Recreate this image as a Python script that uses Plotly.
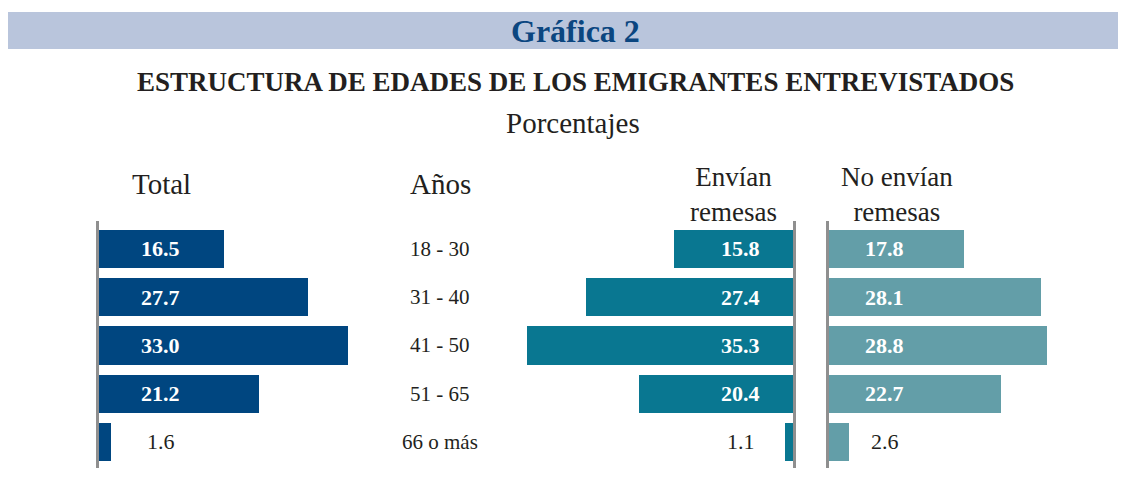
import plotly.graph_objects as go
from plotly.subplots import make_subplots

# data
ages = ["18 - 30", "31 - 40", "41 - 50", "51 - 65", "66 o más"]
total = [16.5, 27.7, 33.0, 21.2, 1.6]
envian = [15.8, 27.4, 35.3, 20.4, 1.1]
no_envian = [17.8, 28.1, 28.8, 22.7, 2.6]

# page body has an 8px margin, so the figure is a bit smaller than the window
OFF = 8
W, H = 1126 - OFF, 485 - 2 * OFF
SERIF = "Liberation Serif"
TXT = "#231f20"
C_TOTAL = "#004680"
C_ENV = "#097791"
C_NOENV = "#639ea8"
AXIS = "#8f8f8f"

PX = 7.56  # pixels per percent unit


def px(x):
    return (x - OFF) / W


def py(y):
    return 1 - (y - OFF) / H


def label(text, x, y, size, color=TXT, **kw):
    fig.add_annotation(x=px(x), y=py(y), xref="paper", yref="paper",
                       xanchor="center", yanchor="middle", showarrow=False,
                       text=text, font=dict(family=SERIF, size=size, color=color),
                       **kw)


fig = make_subplots(rows=1, cols=3)

ydom = [py(468), py(221)]
panels = [
    # values, color, zero pixel, direction, label position (units)
    (total, C_TOTAL, 99, 1, 8.2),
    (envian, C_ENV, 793, -1, 6.9),
    (no_envian, C_NOENV, 829, 1, 7.4),
]

for i, (vals, col, x0, d, lab) in enumerate(panels, start=1):
    fig.add_trace(go.Bar(x=vals, y=ages, orientation="h", marker_color=col,
                         marker_line_width=0, width=0.79, showlegend=False,
                         hoverinfo="x+y"), row=1, col=i)
    if d == 1:
        rng = [0, 37]
        dom = [px(x0), px(x0 + 37 * PX)]
    else:
        rng = [40, 0]
        dom = [px(x0 - 40 * PX), px(x0)]
    fig.update_xaxes(range=rng, domain=dom, visible=False, row=1, col=i)
    fig.update_yaxes(domain=ydom, range=[4.54, -0.58], showticklabels=False,
                     showgrid=False, zeroline=False, ticks="",
                     showline=True, linecolor=AXIS, linewidth=3,
                     side="right" if d == -1 else "left",
                     layer="above traces", row=1, col=i)
    xr = "x" if i == 1 else f"x{i}"
    yr = "y" if i == 1 else f"y{i}"
    for a, v in zip(ages, vals):
        big = v > 5
        fig.add_annotation(x=lab, y=a, xref=xr, yref=yr, showarrow=False,
                           xanchor="center", yanchor="middle",
                           text=f"<b>{v:.1f}</b>" if big else f"{v:.1f}",
                           font=dict(family=SERIF, size=22,
                                     color="#ffffff" if big else TXT))

# age labels
for a in ages:
    fig.add_annotation(x=px(440), y=a, xref="paper", yref="y", showarrow=False,
                       xanchor="center", yanchor="middle",
                       text=a, font=dict(family=SERIF, size=21, color=TXT))

# header band
fig.add_shape(type="rect", xref="paper", yref="paper", x0=px(7), x1=1,
              y0=py(49), y1=py(12), fillcolor="#b9c5dc", line_width=0,
              layer="below")
label("<b>Gráfica 2</b>", 575, 31, 32, color="#0b4680")
label("<b>ESTRUCTURA DE EDADES DE LOS EMIGRANTES ENTREVISTADOS</b>", 575, 82, 27)
label("Porcentajes", 573, 123, 29)

# panel headers
label("Total", 161, 184, 29)
label("Años", 440, 184, 29)
label("Envían<br>remesas", 733, 194, 27)
label("No envían<br>remesas", 897, 194, 27)

fig.update_layout(width=W, height=H, margin=dict(l=0, r=0, t=0, b=0),
                  plot_bgcolor="white", paper_bgcolor="white", bargap=0)

fig.write_html("out.html")
